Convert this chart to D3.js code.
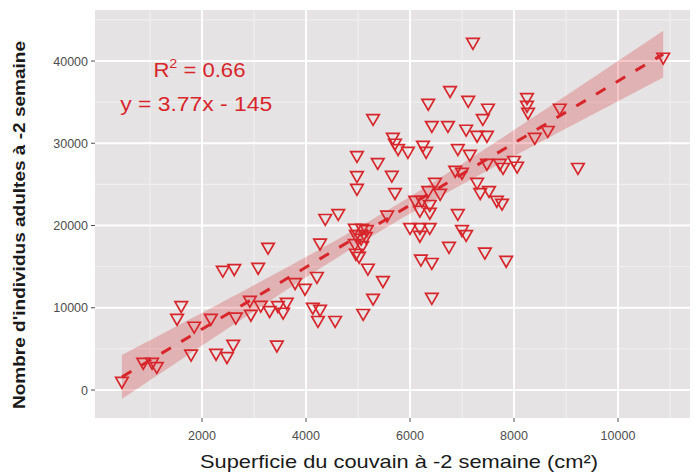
<!DOCTYPE html>
<html lang="fr">
<head>
  <meta charset="UTF-8">
  <title>Superficie du couvain vs adultes</title>
  <script src="https://d3js.org/d3.v7.min.js"></script>
  <style>
    html, body {
      margin: 0;
      padding: 0;
      background: #ffffff;
      font-family: 'Liberation Sans', Arial, sans-serif;
    }
    svg { display: block; }
    .tick-label { fill: #4d4d4d; font-size: 12.5px; }
    .axis-title { fill: #1a1a1a; }
  </style>
</head>
<body>
<svg width="699" height="476"></svg>
<script>
  // superficie du couvain (cm²) and nombre d'adultes
  const superficie = [
    460, 870, 1040, 1130, 1600, 1520, 1850, 1790,
    2270, 2480, 2600, 2170, 2650, 2940, 2920, 2400, 2620, 3080, 3130,
    3270, 3300, 3460, 3560, 3630, 3440, 3790, 3980,
    4210, 4130, 4270, 4230, 4560, 4270, 4370, 4620,
    4980, 4980, 4980, 5290, 5380, 5650, 5710, 5670, 5710, 5770, 5560,
    4940, 5080, 5170, 4960, 5060, 5150, 4940, 5080, 4960, 5020, 5190,
    5480, 5290, 5100,
    5960, 6250, 6310, 6420, 6730, 7080, 7290, 7480, 6920, 7150,
    6350, 6770, 7120, 7210, 6870, 7000, 6480, 6350, 6580, 6100, 6230,
    6380, 6190, 6380, 6000, 6190, 6380, 6190, 6920, 7000, 7080, 6750,
    6210, 6420, 6420,
    7290, 7350, 7520, 7670, 7770, 7480, 7730, 7790, 8000, 8060,
    7500, 7400, 8250, 8250, 8270, 8880, 8650, 8400, 9230, 10870,
    7440, 7850
  ];
  const individus = [
    1100, 3400, 3400, 2900, 10300, 8750, 7800, 4400,
    4500, 4100, 5600, 8750, 8900, 9250, 10950, 14600, 14800, 14950, 10350,
    17400, 9700, 10300, 9500, 10700, 5500, 13100, 12400,
    13850, 10100, 9850, 8500, 8500, 17900, 20900, 21500,
    26100, 24550, 28550, 33050, 27700, 26150, 24050, 30750, 30050, 29400, 21300,
    19700, 19700, 19550, 18950, 18500, 18700, 17850, 17600, 16650, 16300, 14850,
    13350, 11200, 9350,
    29050, 29800, 29050, 32200, 32200, 31750, 31000, 31000, 29400, 28700,
    34900, 36450, 35250, 42300, 26750, 26500, 25300, 24300, 23950, 23100, 23100,
    22600, 21900, 21650, 19800, 19800, 19800, 18850, 21500, 19550, 18950, 17500,
    15950, 15550, 11300,
    25300, 24050, 24300, 23100, 22750, 27600, 27600, 27100, 27950, 27250,
    34300, 33050, 35600, 34650, 33800, 34300, 31600, 30750, 27100, 40500,
    16800, 15800
  ];

  const xTicks = [2000, 4000, 6000, 8000, 10000];
  const xMinor = [1000, 3000, 5000, 7000, 9000, 11000];
  const yTicks = [0, 10000, 20000, 30000, 40000];
  const yMinor = [5000, 15000, 25000, 35000, 45000];

  const slope = 3.77, intercept = -145;
  const labelR2 = "0.66";
  const labelEq = "y = 3.77x - 145";

  const data = superficie.map((x, i) => ({ x: x, y: individus[i] }));

  const svg = d3.select("svg");
  const panel = { left: 95, right: 690, top: 10, bottom: 418 };

  const x = d3.scaleLinear().domain([-58, 11385]).range([panel.left, panel.right]);
  const y = d3.scaleLinear().domain([-3400, 46200]).range([panel.bottom, panel.top]);

  const red = "#d7262b";

  // panel
  svg.append("rect")
    .attr("x", panel.left).attr("y", panel.top)
    .attr("width", panel.right - panel.left).attr("height", panel.bottom - panel.top)
    .attr("fill", "#e5e3e3");

  const grid = svg.append("g");
  grid.selectAll("line.xminor").data(xMinor).join("line")
    .attr("x1", d => x(d)).attr("x2", d => x(d))
    .attr("y1", panel.top).attr("y2", panel.bottom)
    .attr("stroke", "#f2f1f1").attr("stroke-width", 1);
  grid.selectAll("line.yminor").data(yMinor).join("line")
    .attr("x1", panel.left).attr("x2", panel.right)
    .attr("y1", d => y(d)).attr("y2", d => y(d))
    .attr("stroke", "#f2f1f1").attr("stroke-width", 1);
  grid.selectAll("line.xmajor").data(xTicks).join("line")
    .attr("x1", d => x(d)).attr("x2", d => x(d))
    .attr("y1", panel.top).attr("y2", panel.bottom)
    .attr("stroke", "#ffffff").attr("stroke-width", 2);
  grid.selectAll("line.ymajor").data(yTicks).join("line")
    .attr("x1", panel.left).attr("x2", panel.right)
    .attr("y1", d => y(d)).attr("y2", d => y(d))
    .attr("stroke", "#ffffff").attr("stroke-width", 2);

  // confidence band of the fit (95%), evaluated at the observed x values
  const n = data.length;
  const xbar = d3.mean(data, d => d.x);
  const sxx = d3.sum(data, d => (d.x - xbar) ** 2);
  const rss = d3.sum(data, d => (d.y - (slope * d.x + intercept)) ** 2);
  const s = Math.sqrt(rss / (n - 2));
  const tq = 1.98;
  const xs = Array.from(new Set(superficie)).sort((a, b) => a - b);
  const band = xs.map(v => {
    const fit = slope * v + intercept;
    const se = s * Math.sqrt(1 / n + (v - xbar) ** 2 / sxx);
    return { x: v, fit: fit, lo: fit - tq * se, hi: fit + tq * se };
  });

  svg.append("path")
    .datum(band)
    .attr("d", d3.area().x(d => x(d.x)).y0(d => y(d.lo)).y1(d => y(d.hi)))
    .attr("fill", red).attr("fill-opacity", 0.26);

  svg.append("path")
    .datum([band[0], band[band.length - 1]])
    .attr("d", d3.line().x(d => x(d.x)).y(d => y(d.fit)))
    .attr("fill", "none").attr("stroke", red)
    .attr("stroke-width", 3).attr("stroke-dasharray", "11,12");

  // points: open downward triangles
  const tri = d3.symbol(d3.symbolTriangle, 68)();
  svg.append("g").selectAll("path").data(data).join("path")
    .attr("d", tri)
    .attr("transform", d => `translate(${x(d.x)},${y(d.y)}) rotate(180)`)
    .attr("fill", "none").attr("stroke", red).attr("stroke-width", 1.7);

  // axes: ticks and labels
  const axes = svg.append("g");
  axes.selectAll("line.xt").data(xTicks).join("line")
    .attr("x1", d => x(d)).attr("x2", d => x(d))
    .attr("y1", panel.bottom).attr("y2", panel.bottom + 4)
    .attr("stroke", "#4d4d4d");
  axes.selectAll("text.xt").data(xTicks).join("text")
    .attr("class", "tick-label")
    .attr("x", d => x(d)).attr("y", panel.bottom + 22)
    .attr("text-anchor", "middle")
    .text(d => d);
  axes.selectAll("line.yt").data(yTicks).join("line")
    .attr("x1", panel.left - 4).attr("x2", panel.left)
    .attr("y1", d => y(d)).attr("y2", d => y(d))
    .attr("stroke", "#4d4d4d");
  axes.selectAll("text.yt").data(yTicks).join("text")
    .attr("class", "tick-label")
    .attr("x", panel.left - 7).attr("y", d => y(d) + 4.5)
    .attr("text-anchor", "end")
    .text(d => d);

  svg.append("text")
    .attr("class", "axis-title")
    .attr("x", 399).attr("y", 468)
    .attr("text-anchor", "middle")
    .attr("textLength", 398).attr("lengthAdjust", "spacingAndGlyphs")
    .style("font-size", "19px")
    .text("Superficie du couvain à -2 semaine (cm²)");

  svg.append("text")
    .attr("class", "axis-title")
    .attr("transform", "translate(25,225) rotate(-90)")
    .attr("text-anchor", "middle")
    .attr("textLength", 368).attr("lengthAdjust", "spacingAndGlyphs")
    .style("font-size", "17px").style("font-weight", "bold")
    .text("Nombre d'individus adultes à -2 semaine");

  // annotations
  const r2 = svg.append("text")
    .attr("x", x(1950)).attr("y", y(39000) + 8)
    .attr("text-anchor", "middle")
    .attr("textLength", 92).attr("lengthAdjust", "spacingAndGlyphs")
    .style("white-space", "pre")
    .attr("fill", red).style("font-size", "20px");
  r2.append("tspan").text("R");
  r2.append("tspan").attr("dy", -9).style("font-size", "13px").text("2");
  r2.append("tspan").attr("dy", 9).text(" = " + labelR2);

  svg.append("text")
    .attr("x", x(1890)).attr("y", y(34900) + 8)
    .attr("text-anchor", "middle")
    .attr("textLength", 152).attr("lengthAdjust", "spacingAndGlyphs")
    .attr("fill", red).style("font-size", "20px")
    .text(labelEq);
</script>
</body>
</html>
